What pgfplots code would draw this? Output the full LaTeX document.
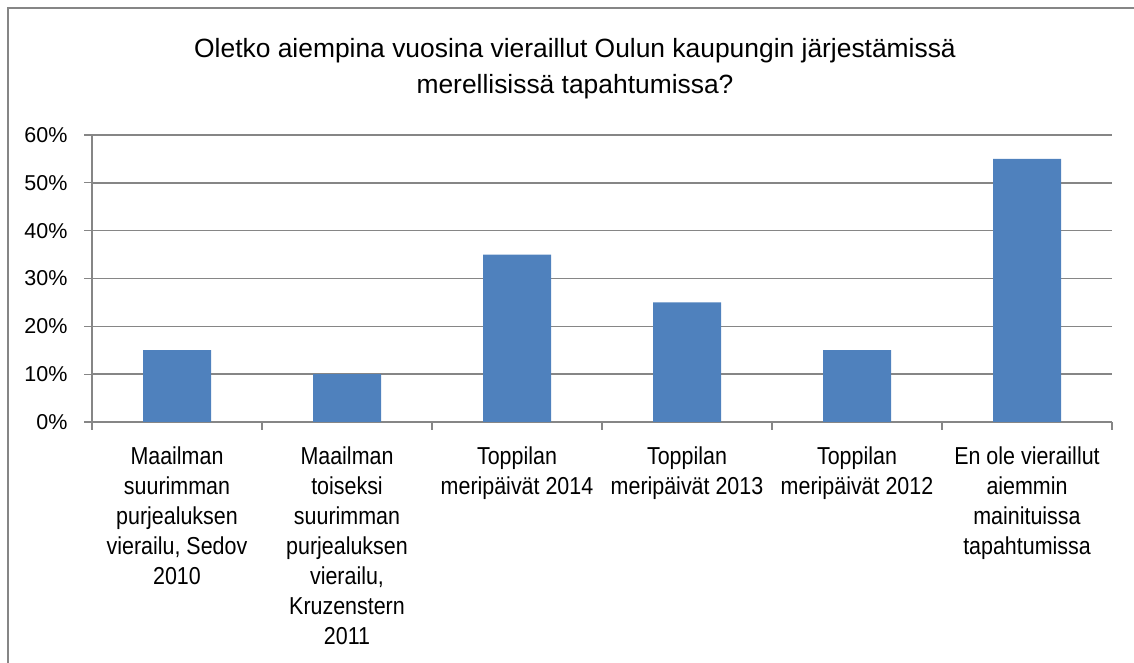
\documentclass[border=0pt]{standalone}
\usepackage{fontspec}
\setmainfont{Liberation Sans}
\newfontfamily\catfont{Liberation Sans}[FakeStretch=0.875]
\usepackage{pgfplots}
\pgfplotsset{compat=1.18}
\definecolor{barblue}{HTML}{4F81BD}
\definecolor{gridgray}{HTML}{868686}
\begin{document}
\begin{tikzpicture}[x=1pt,y=1pt]
\useasboundingbox (0,0) rectangle (1134,663);
\draw[gridgray, line width=2pt] (8,-5) -- (8,655) -- (1140,655);
\node[font=\fontsize{26.4}{35}\selectfont, anchor=base] at (575,605) {Oletko aiempina vuosina vieraillut Oulun kaupungin järjestämissä};
\node[font=\fontsize{26.4}{35}\selectfont, anchor=base] at (575,569) {merellisissä tapahtumissa?};
\begin{axis}[
  at={(92pt,241pt)}, anchor=south west,
  scale only axis, width=1020pt, height=287pt,
  xmin=-0.5, xmax=5.5, ymin=0, ymax=60,
  axis x line*=bottom, axis y line*=left,
  axis line style={gridgray, line width=1.3pt, -},
  tick align=outside,
  major tick length=8pt, minor tick length=8pt,
  tick style={gridgray, line width=1.3pt},
  xtick={0,1,2,3,4,5},
  major x tick style={draw=none},
  minor xtick={-0.5,0.5,1.5,2.5,3.5,4.5,5.5},
  xticklabels={{Maailman\\suurimman\\purjealuksen\\vierailu, Sedov\\2010},
    {Maailman\\toiseksi\\suurimman\\purjealuksen\\vierailu,\\Kruzenstern\\2011},
    {Toppilan\\meripäivät 2014},
    {Toppilan\\meripäivät 2013},
    {Toppilan\\meripäivät 2012},
    {En ole vieraillut\\aiemmin\\mainituissa\\tapahtumissa}},
  xticklabel style={align=center, font=\catfont\fontsize{24.5}{30}\selectfont, anchor=north, yshift=-13.5pt},
  ytick={0,10,20,30,40,50,60},
  yticklabels={0\%,10\%,20\%,30\%,40\%,50\%,60\%},
  yticklabel style={font=\fontsize{21.5}{25}\selectfont, xshift=-13pt},
  ymajorgrids,
  major grid style={gridgray, line width=1.6pt},
]
\addplot[ybar, fill=barblue, draw=none, bar width=68pt] coordinates {(0,15) (1,10) (2,35) (3,25) (4,15) (5,55)};
\end{axis}
\end{tikzpicture}
\end{document}
